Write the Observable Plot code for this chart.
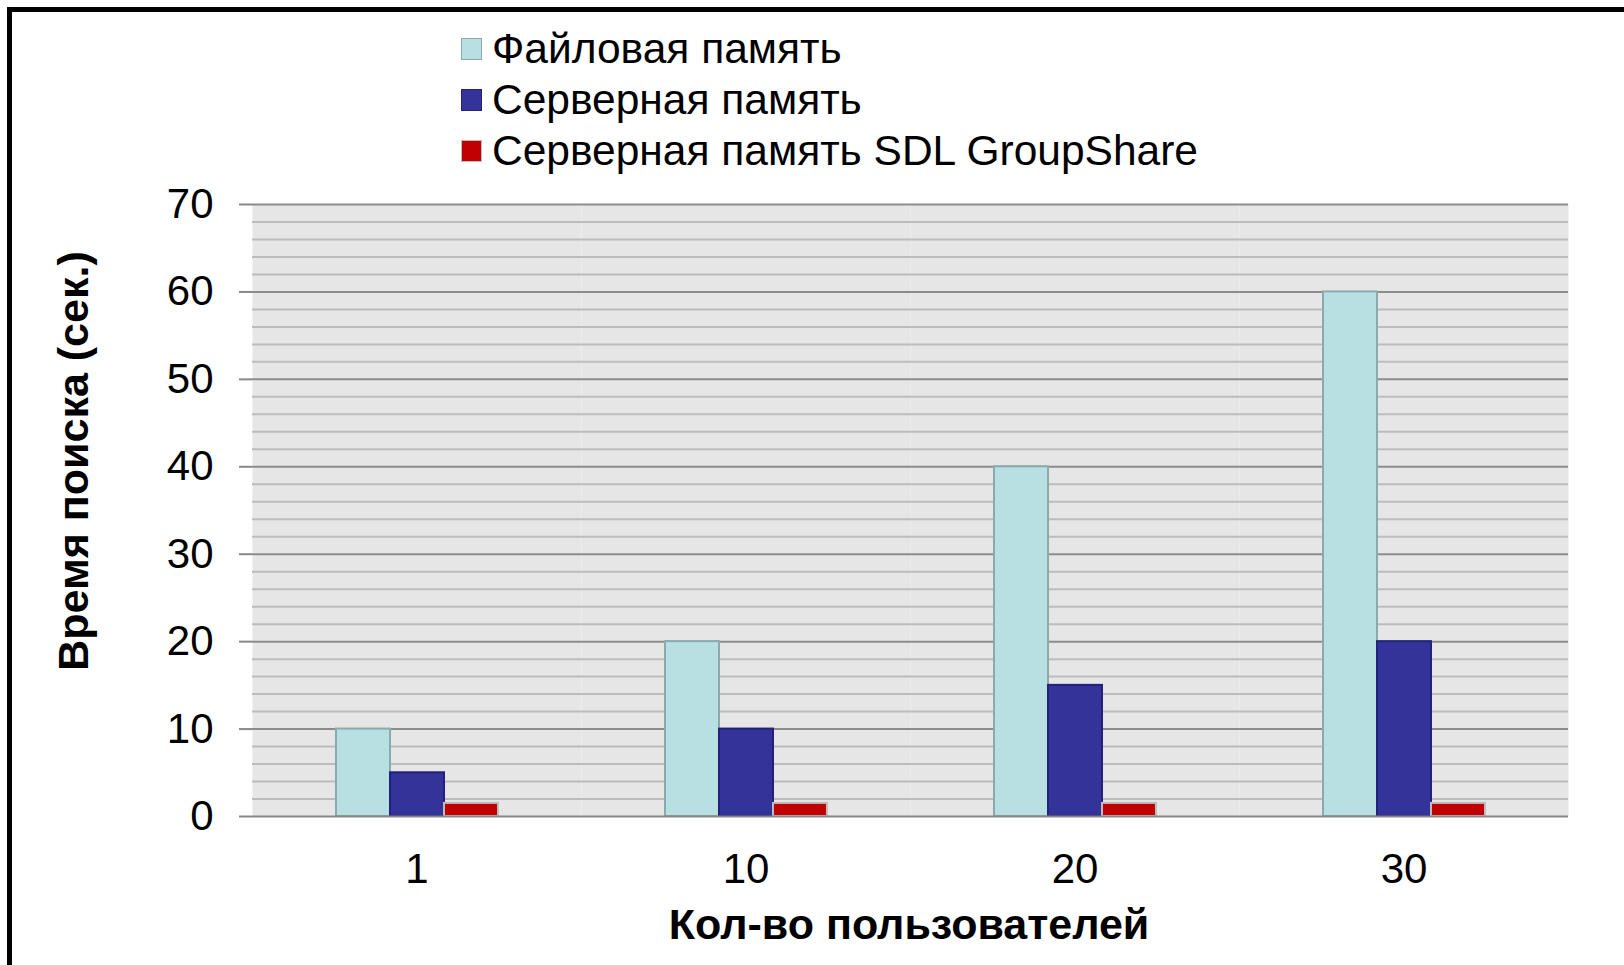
<!DOCTYPE html>
<html>
<head>
<meta charset="utf-8">
<script src="https://cdn.jsdelivr.net/npm/d3@7"></script>
<script src="https://cdn.jsdelivr.net/npm/@observablehq/plot@0.6"></script>
<style>
  html, body { margin: 0; padding: 0; background: #fff; overflow: hidden; width: 1624px; height: 965px; }
  body { position: relative; font-family: "Liberation Sans", Arial, sans-serif; }
  #border { position: absolute; left: 7px; top: 7px; width: 1700px; height: 1100px; border: 5px solid #000; box-sizing: border-box; }
  #chart { position: absolute; left: 0; top: 0; }
  #legend { position: absolute; left: 461px; top: 23px; font-size: 42.5px; line-height: 51px; color: #000; }
  .row { display: flex; align-items: center; white-space: nowrap; }
  .sw { width: 19px; height: 20px; border: 1px solid; margin-right: 10px; flex: none; }
  .title { position: absolute; font-size: 43px; font-weight: bold; white-space: nowrap; color: #000; }
  #xtitle { left: 909px; top: 924px; transform: translate(-50%, -50%); }
  #ytitle { left: 73px; top: 461px; transform: translate(-50%, -50%) rotate(-90deg); }
</style>
</head>
<body>
<div id="border"></div>
<div id="chart"></div>
<div id="legend"></div>
<div class="title" id="xtitle"></div>
<div class="title" id="ytitle"></div>
<script>
const users = ["1", "10", "20", "30"];
const seriesNames = ["Файловая память", "Серверная память", "Серверная память SDL GroupShare"];
const fileMemory = [10, 20, 40, 60];
const serverMemory = [5, 10, 15, 20];
const groupShareMemory = [1.5, 1.5, 1.5, 1.5];
const fills = ["#B8DFE2", "#333399", "#C00000"];
const strokes = ["#8AAAAD", "#22227A", "#BDBDBD"];
const yMajorTicks = [0, 10, 20, 30, 40, 50, 60, 70];
const yMinorTicks = [2, 4, 6, 8, 12, 14, 16, 18, 22, 24, 26, 28, 32, 34, 36, 38, 42, 44, 46, 48, 52, 54, 56, 58, 62, 64, 66, 68];
const xTitle = "Кол-во пользователей";
const yTitle = "Время поиска (сек.)";

const seriesValues = [fileMemory, serverMemory, groupShareMemory];
const data = [];
seriesNames.forEach((s, si) => users.forEach((u, ui) => data.push({users: u, series: s, value: seriesValues[si][ui], si})));

const barMarks = seriesNames.map((s, si) =>
  Plot.barY(data.filter(d => d.si === si), {
    fx: "users", x: "series", y: "value",
    fill: fills[si], stroke: strokes[si], strokeWidth: 2
  })
);

const chart = Plot.plot({
  width: 1624,
  height: 965,
  marginTop: 204,
  marginBottom: 149,
  marginLeft: 251,
  marginRight: 55,
  style: {fontFamily: "'Liberation Sans', Arial, sans-serif", fontSize: "42px", background: "transparent", color: "#000", overflow: "visible"},
  fx: {domain: users, padding: 0, label: null},
  x: {domain: seriesNames, paddingInner: 0, paddingOuter: 1.5, axis: null},
  y: {domain: [0, 70], label: null},
  marks: [
    Plot.frame({fill: "#E6E6E6", stroke: null}),
    Plot.gridY(yMinorTicks, {stroke: "#BCBCBC", strokeOpacity: 1, strokeWidth: 2}),
    Plot.gridY(yMajorTicks.filter(d => d > 0), {stroke: "#8C8C8C", strokeOpacity: 1, strokeWidth: 2}),
    ...barMarks,
    Plot.ruleY([0], {stroke: "#888", strokeWidth: 2}),
    Plot.axisY(yMajorTicks, {tickSize: 13, tickPadding: 26, stroke: "#888", strokeWidth: 2, line: true, label: null, fontSize: 42, fill: "#000"}),
    Plot.axisFx({anchor: "bottom", tickSize: 0, tickPadding: 37, label: null, fontSize: 42, fill: "#000"})
  ]
});
document.getElementById("chart").append(chart);

const legend = document.getElementById("legend");
seriesNames.forEach((s, i) => {
  const row = document.createElement("div");
  row.className = "row";
  const sw = document.createElement("span");
  sw.className = "sw";
  sw.style.background = fills[i];
  sw.style.borderColor = strokes[i];
  const t = document.createElement("span");
  t.textContent = s;
  row.append(sw, t);
  legend.append(row);
});
document.getElementById("xtitle").textContent = xTitle;
document.getElementById("ytitle").textContent = yTitle;
</script>
</body>
</html>
